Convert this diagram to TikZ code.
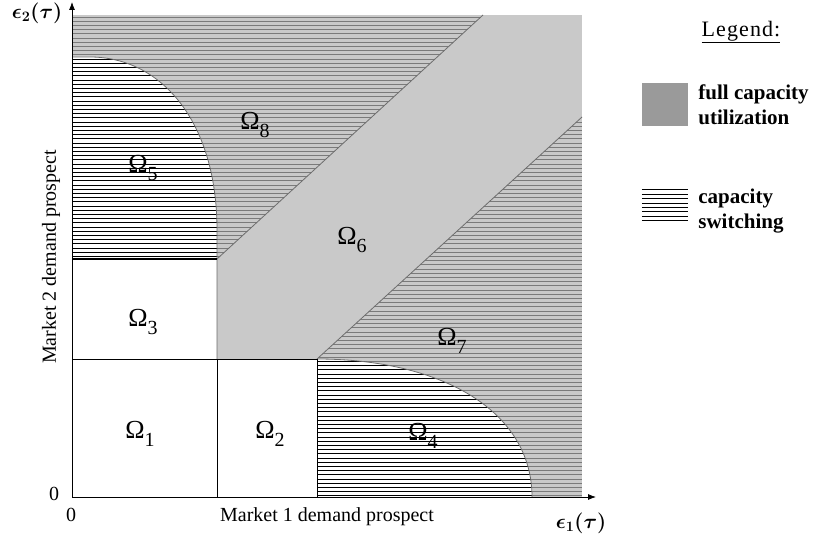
\documentclass[tikz,border=0pt]{standalone}
\usepackage{bm}
\usepackage{fontspec}
\setmainfont{Liberation Serif}
\setsansfont{Liberation Sans}
\usepackage{graphicx}
\usetikzlibrary{arrows.meta,positioning}
\definecolor{bandgray}{HTML}{C9C9C9}
\definecolor{legendgray}{HTML}{9A9A9A}
\definecolor{hatchgray}{HTML}{7A7A7A}
\definecolor{edgegray}{HTML}{6E6E6E}
\newcommand{\regname}[1]{Ω\raisebox{-8pt}{\fontsize{20}{20}\selectfont #1}}
\newcommand{\epslabel}[1]{$\bm{\epsilon}_{\bm{#1}}\bm{(}\bm{\tau}\bm{)}$}

\begin{document}
\begin{tikzpicture}[x=1pt,y=-1pt,
  region/.style={font=\fontsize{26}{26}\selectfont},
  axislabel/.style={font=\fontsize{20}{20}\selectfont},
  legendtext/.style={font=\bfseries\fontsize{21}{25}\selectfont,align=left,inner sep=0pt},
  hatch/.style={line width=0.8pt},
  axisline/.style={line width=0.8pt,-{Latex[length=8pt,width=6pt]}}]
\useasboundingbox (0,0) rectangle (814,540);
% gray and white areas
\fill[bandgray] (72,15) rectangle (582,497);
\fill[white] (72,259) rectangle (217,497);
\fill[white] (217,359) rectangle (317,497);
\fill[white] (72,259) -- (72,57) -- (90,57) .. controls (160,57) and (217,120) .. (217,230) -- (217,259) -- cycle;
\fill[white] (317,497) -- (317,359) .. controls (440,359) and (532,410) .. (532,497) -- cycle;
% hatching
\begin{scope}
  \clip (72,15) -- (483,15) -- (217,259) -- (72,259) -- cycle;
  \foreach \y in {17,21.2,...,497} \draw[hatch,hatchgray] (72,\y) -- (582,\y);
\end{scope}
\begin{scope}
  \clip (72,259) -- (72,57) -- (90,57) .. controls (160,57) and (217,120) .. (217,230) -- (217,259) -- cycle;
  \foreach \y in {17,21.2,...,497} \draw[hatch,black] (72,\y) -- (582,\y);
\end{scope}
\begin{scope}
  \clip (317,359) -- (582,117) -- (582,497) -- (317,497) -- cycle;
  \foreach \y in {17,21.2,...,497} \draw[hatch,hatchgray] (72,\y) -- (582,\y);
\end{scope}
\begin{scope}
  \clip (317,497) -- (317,359) .. controls (440,359) and (532,410) .. (532,497) -- cycle;
  \foreach \y in {17,21.2,...,497} \draw[hatch,black] (72,\y) -- (582,\y);
\end{scope}
% borders
\draw[edgegray,line width=0.8pt] (72,57) -- (90,57) .. controls (160,57) and (217,120) .. (217,230) -- (217,359);
\draw[edgegray,line width=0.8pt] (217,259) -- (483,15);
\draw[edgegray,line width=0.8pt] (317,359) -- (582,117);
\draw[edgegray,line width=0.8pt] (317,359) .. controls (440,359) and (532,410) .. (532,497);
\draw[line width=1.6pt] (72,259) -- (217,259);
\draw[line width=0.8pt] (72,359) -- (317,359);
\draw[line width=0.8pt] (217,359) -- (217,497);
\draw[line width=0.8pt] (317,359) -- (317,497);
% axes
\coordinate (orig) at (72,497);
\coordinate (xtip) at (596,497);
\coordinate (ytip) at (72,2);
\draw[axisline] (orig) -- (xtip);
\draw[axisline] (orig) -- (ytip);
\node[axislabel] (eps2) at (37,13) {\epslabel{2}};
\node[axislabel] (eps1) at (581,523) {\epslabel{1}};
\node[axislabel] (zeroy) at (54,494) {0};
\node[axislabel] (zerox) at (71,515) {0};
\node[axislabel] (mkt1) at (327,517) {Market 1 demand prospect};
\node[axislabel,rotate=90] (mkt2) at (51,257) {Market 2 demand prospect};
% regions
\node[region] (om1) at (140,434) {\regname{1}};
\node[region] (om2) at (270,434) {\regname{2}};
\node[region] (om3) at (143,322) {\regname{3}};
\node[region] (om4) at (423,436) {\regname{4}};
\node[region] (om5) at (143,168) {\regname{5}};
\node[region] (om6) at (352,240) {\regname{6}};
\node[region] (om7) at (452,341) {\regname{7}};
\node[region] (om8) at (255,125) {\regname{8}};
% legend
\node[font=\fontsize{22}{22}\selectfont] (legend) at (741,32) {\addfontfeature{LetterSpace=5}\underline{Legend:}};
\node[fill=legendgray,minimum width=46pt,minimum height=43pt,inner sep=0pt] (fullbox) at (665,104.5) {};
\node[legendtext,right=10pt of fullbox] (fulltext) {full capacity\\utilization};
\node[minimum width=46pt,minimum height=31pt,inner sep=0pt] (switchbox) at (665,205.5) {};
\foreach \k in {0,...,7}
  \draw[line width=0.8pt] ([yshift=-\k*4.4pt]switchbox.north west) -- ([yshift=-\k*4.4pt]switchbox.north east);
\node[legendtext,right=10pt of switchbox,yshift=-6pt] (switchtext) {capacity\\switching};
\end{tikzpicture}
\end{document}
